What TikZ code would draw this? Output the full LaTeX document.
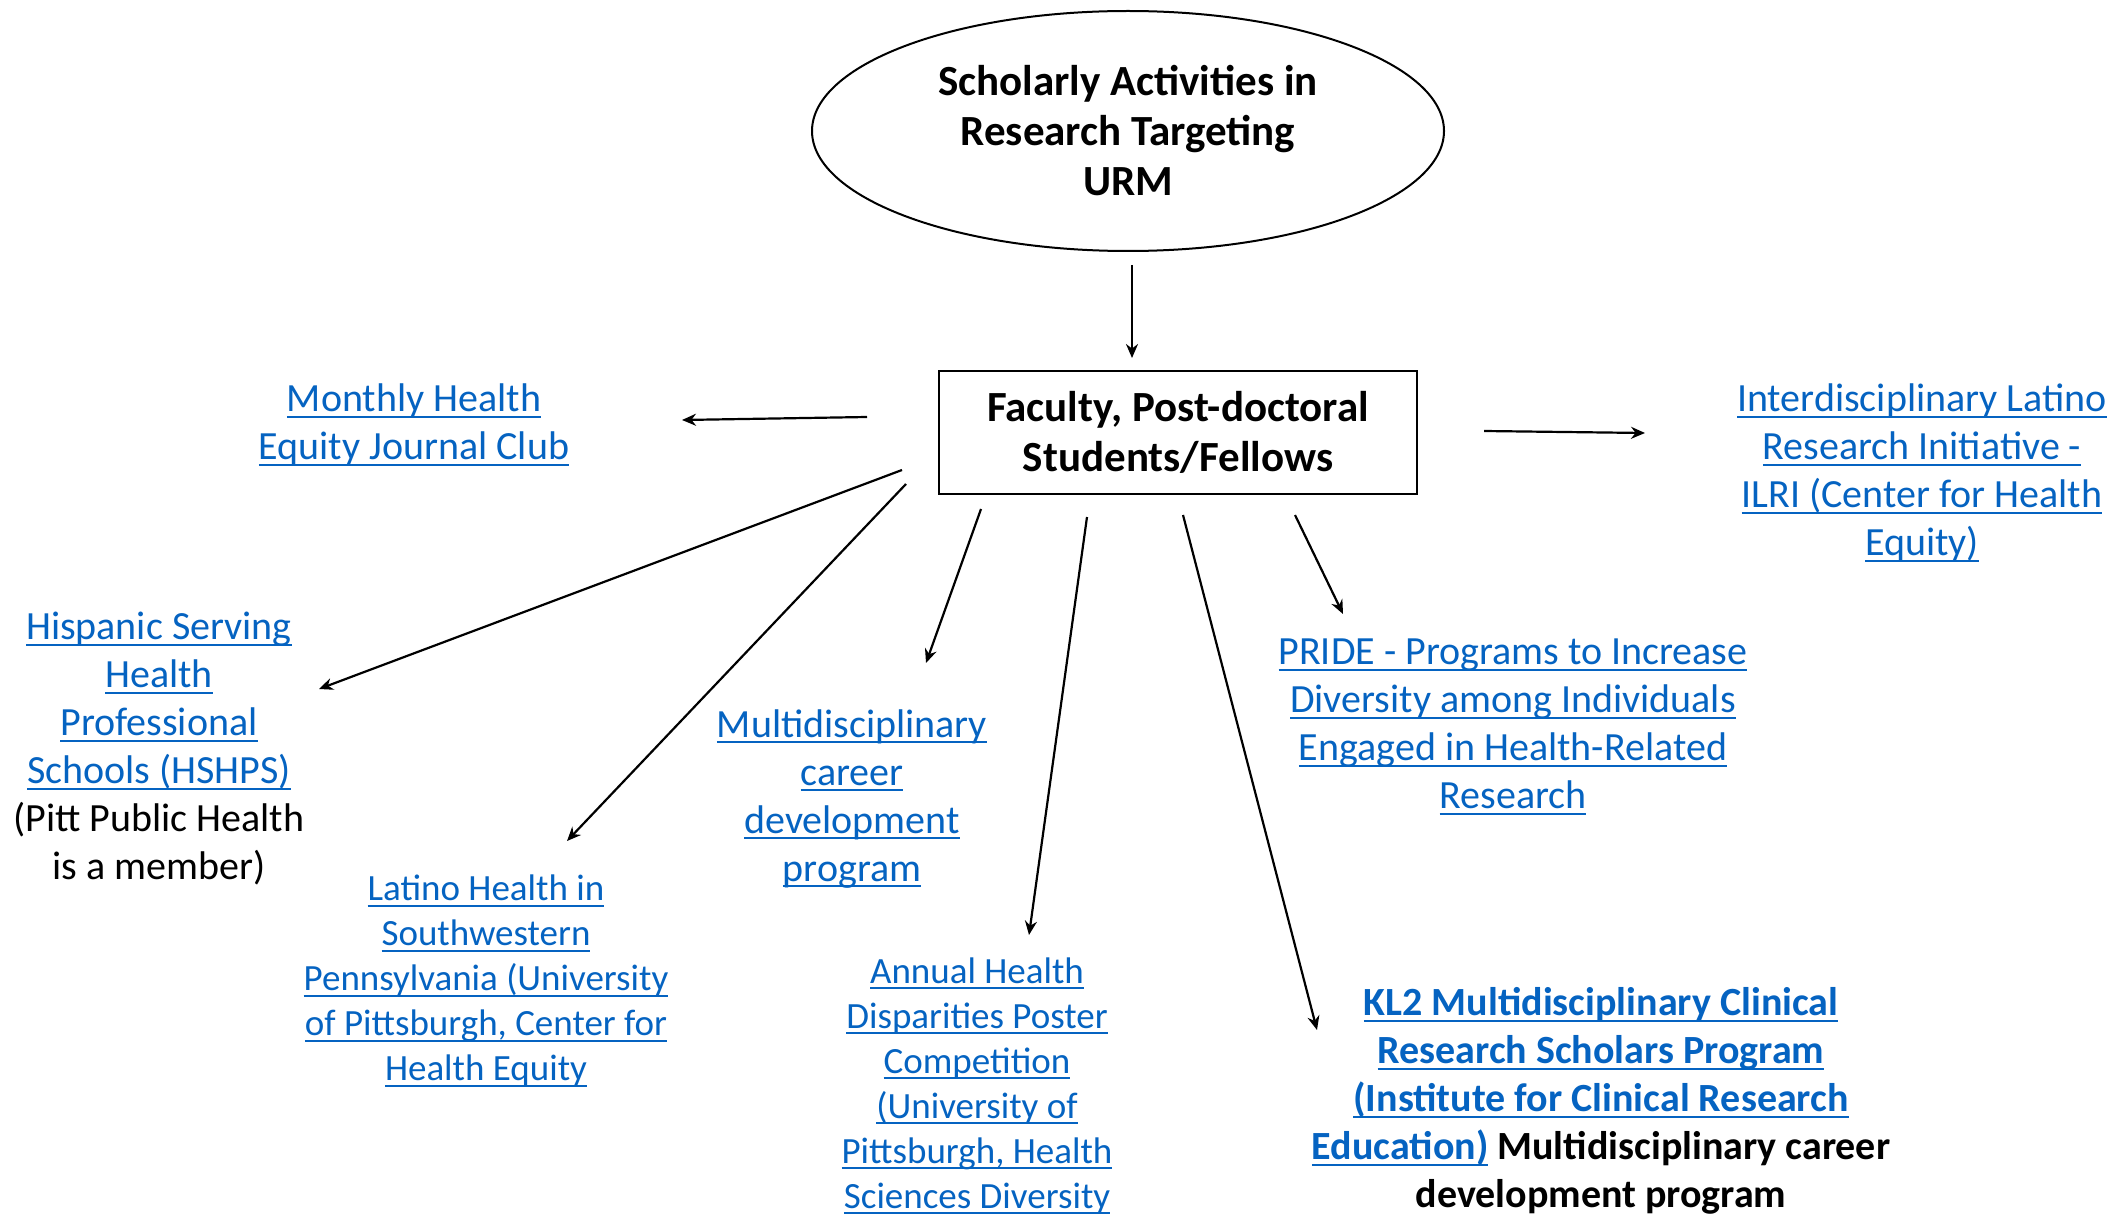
\documentclass[tikz,border=0pt]{standalone}
\usepackage{fontspec}
\setmainfont{Carlito}
\usetikzlibrary{arrows.meta,calc,shapes.geometric}
\definecolor{linkblue}{RGB}{5,99,193}
\newsavebox{\lnkbox}
\newcommand{\lnk}[1]{\sbox{\lnkbox}{#1}\rlap{\rule[-3pt]{\wd\lnkbox}{1pt}}\usebox{\lnkbox}}
\begin{document}
\begin{tikzpicture}[x=0.5pt,y=-0.5pt,
    lnknode/.style={align=center,text=linkblue,inner sep=0pt,font=\fontsize{20}{24}\selectfont},
    smallnode/.style={lnknode,font=\fontsize{18.5}{22.5}\selectfont},
    arr/.style={-{Stealth[length=7pt,width=6pt]},line width=1.1pt}]
    \useasboundingbox (0,0) rectangle (2110,1214);
    % top of the map
    \node[ellipse,draw,line width=1pt,minimum width=316pt,minimum height=120pt,align=center,
        font=\fontsize{21.5}{25}\selectfont\bfseries] (ell) at (1128,131)
        {Scholarly Activities in\\Research Targeting\\URM};
    \node[draw,line width=1pt,minimum width=239pt,minimum height=61.5pt,align=center,
        font=\fontsize{21.5}{25}\selectfont\bfseries] (box) at (1178,432)
        {Faculty, Post-doctoral\\Students/Fellows};
    % programs
    \node[lnknode] (mon) at (414,425) {\lnk{Monthly Health}\\\lnk{Equity Journal Club}};
    \node[lnknode] (ilri) at (1922,473) {\lnk{Interdisciplinary Latino}\\\lnk{Research Initiative -}\\
        \lnk{ILRI (Center for Health}\\\lnk{Equity)}};
    \node[lnknode] (hsp) at (159,749) {\lnk{Hispanic Serving}\\\lnk{Health}\\\lnk{Professional}\\
        \lnk{Schools (HSHPS)}\\{\color{black}(Pitt Public Health}\\{\color{black}is a member)}};
    \node[smallnode] (lat) at (486,981) {\lnk{Latino Health in}\\\lnk{Southwestern}\\
        \lnk{Pennsylvania (University}\\\lnk{of Pittsburgh, Center for}\\\lnk{Health Equity}};
    \node[lnknode] (mcd) at (852,799) {\lnk{Multidisciplinary}\\\lnk{career}\\\lnk{development}\\\lnk{program}};
    \node[smallnode] (ahd) at (977,1086) {\lnk{Annual Health}\\\lnk{Disparities Poster}\\\lnk{Competition}\\
        \lnk{(University of}\\\lnk{Pittsburgh, Health}\\\lnk{Sciences Diversity}};
    \node[lnknode,font=\fontsize{20}{24}\selectfont\bfseries] (kl2) at (1601,1101)
        {\lnk{KL2 Multidisciplinary Clinical}\\\lnk{Research Scholars Program}\\
        \lnk{(Institute for Clinical Research}\\\lnk{Education)} {\color{black}Multidisciplinary career}\\
        {\color{black}development program}};
    \node[lnknode] (pride) at (1513,727) {\lnk{PRIDE - Programs to Increase}\\\lnk{Diversity among Individuals}\\
        \lnk{Engaged in Health-Related}\\\lnk{Research}};
    % arrows
    \draw[arr] ($(ell)+(4,134)$) -- ($(box)+(-46,-74)$);
    \draw[arr] ($(box)+(-311,-15)$) -- ($(mon)+(268,-5)$);
    \draw[arr] ($(box)+(306,-1)$) -- ($(ilri)+(-277,-40)$);
    \draw[arr] ($(box)+(-276,38)$) -- ($(hsp)+(160,-60)$);
    \draw[arr] ($(box)+(-272,52)$) -- ($(lat)+(81,-140)$);
    \draw[arr] ($(box)+(-197,77)$) -- ($(mcd)+(74,-136)$);
    \draw[arr] ($(box)+(-91,85)$) -- ($(ahd)+(52,-151)$);
    \draw[arr] ($(box)+(5,83)$) -- ($(kl2)+(-284,-71)$);
    \draw[arr] ($(box)+(117,83)$) -- ($(pride)+(-170,-113)$);
\end{tikzpicture}
\end{document}
